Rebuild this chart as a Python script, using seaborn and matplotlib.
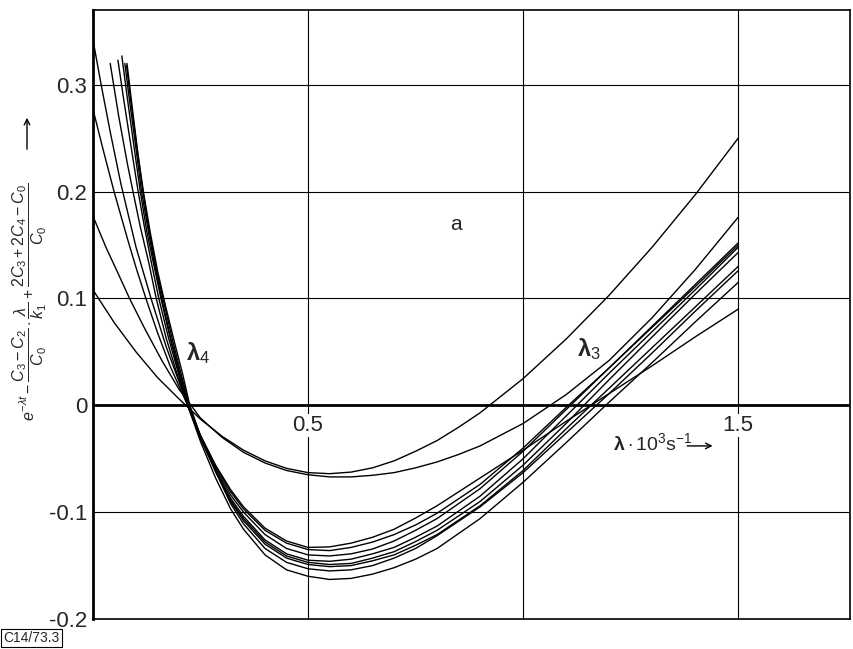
import matplotlib
matplotlib.use('Agg')
import matplotlib.pyplot as plt
import pandas as pd
import seaborn as sns

# curves: lambda * 10^3 s^-1 against the combined expression
lam_s1 = [0, 0.05, 0.1, 0.15, 0.2, 0.25, 0.3, 0.35, 0.4, 0.45, 0.5, 0.55, 0.6, 0.65, 0.7, 0.75, 0.8, 0.85, 0.9, 1.0, 1.1, 1.2, 1.3, 1.4, 1.5]
val_s1 = [0.108, 0.077, 0.05, 0.026, 0.006, -0.013, -0.029, -0.042, -0.052, -0.059, -0.063, -0.064, -0.0625, -0.0585, -0.052, -0.043, -0.033, -0.0205, -0.007, 0.025, 0.062, 0.103, 0.148, 0.197, 0.25]

lam_s2 = [0, 0.03, 0.06, 0.085, 0.12, 0.16, 0.2, 0.25, 0.3, 0.35, 0.4, 0.45, 0.5, 0.55, 0.6, 0.65, 0.7, 0.75, 0.8, 0.85, 0.9, 1.0, 1.1, 1.2, 1.3, 1.4, 1.5]
val_s2 = [0.177, 0.148, 0.122, 0.1, 0.072, 0.042, 0.015, -0.012, -0.03, -0.044, -0.054, -0.061, -0.065, -0.067, -0.067, -0.0655, -0.063, -0.0585, -0.053, -0.046, -0.038, -0.017, 0.010, 0.042, 0.082, 0.127, 0.176]

lam_e1 = [0, 0.025, 0.049, 0.08, 0.1, 0.123, 0.15, 0.18, 0.2, 0.22, 0.25, 0.285, 0.32, 0.35, 0.4, 0.45, 0.5, 0.55, 0.6, 0.65, 0.7, 0.75, 0.8, 0.9, 1.0, 1.1, 1.2, 1.3, 1.4, 1.5]
val_e1 = [0.277, 0.237, 0.2, 0.156, 0.129, 0.1, 0.068, 0.036, 0.018, 0.0, -0.028, -0.056, -0.079, -0.095, -0.115, -0.127, -0.133, -0.1325, -0.129, -0.1235, -0.116, -0.1055, -0.094, -0.068, -0.042, -0.015, 0.011, 0.037, 0.064, 0.09]

lam_e2 = [0.04, 0.06, 0.08, 0.093, 0.11, 0.13, 0.147, 0.17, 0.195, 0.22, 0.25, 0.285, 0.32, 0.35, 0.4, 0.45, 0.5, 0.55, 0.6, 0.65, 0.7, 0.75, 0.8, 0.9, 1.0, 1.1, 1.2, 1.3, 1.4, 1.5]
val_e2 = [0.32, 0.27, 0.226, 0.2, 0.167, 0.133, 0.1, 0.063, 0.03, 0.0, -0.029, -0.057, -0.081, -0.097, -0.117, -0.129, -0.135, -0.136, -0.133, -0.128, -0.121, -0.112, -0.101, -0.074, -0.040, -0.002, 0.035, 0.073, 0.111, 0.150]

lam_e3 = [0.058, 0.07, 0.085, 0.105, 0.12, 0.137, 0.153, 0.175, 0.2, 0.22, 0.25, 0.285, 0.32, 0.35, 0.4, 0.45, 0.5, 0.55, 0.6, 0.65, 0.7, 0.75, 0.8, 0.9, 1.0, 1.1, 1.2, 1.3, 1.4, 1.5]
val_e3 = [0.323, 0.29, 0.251, 0.2, 0.166, 0.131, 0.1, 0.064, 0.028, 0.0, -0.03, -0.059, -0.084, -0.1, -0.121, -0.134, -0.14, -0.141, -0.139, -0.1345, -0.127, -0.117, -0.106, -0.078, -0.043, -0.004, 0.035, 0.074, 0.113, 0.152]

lam_e4 = [0.067, 0.08, 0.095, 0.11, 0.125, 0.14, 0.158, 0.18, 0.2, 0.22, 0.25, 0.285, 0.32, 0.35, 0.4, 0.45, 0.5, 0.55, 0.6, 0.65, 0.7, 0.75, 0.8, 0.9, 1.0, 1.1, 1.2, 1.3, 1.4, 1.5]
val_e4 = [0.327, 0.287, 0.243, 0.2, 0.163, 0.134, 0.1, 0.062, 0.03, 0.0, -0.031, -0.061, -0.087, -0.104, -0.126, -0.139, -0.145, -0.146, -0.144, -0.139, -0.133, -0.1235, -0.113, -0.085, -0.050, -0.010, 0.030, 0.069, 0.108, 0.148]

lam_e5 = [0.074, 0.085, 0.1, 0.113, 0.13, 0.145, 0.162, 0.18, 0.2, 0.222, 0.25, 0.285, 0.32, 0.35, 0.4, 0.45, 0.5, 0.55, 0.6, 0.65, 0.7, 0.75, 0.8, 0.9, 1.0, 1.1, 1.2, 1.3, 1.4, 1.5]
val_e5 = [0.32, 0.285, 0.24, 0.2, 0.16, 0.128, 0.096, 0.064, 0.033, 0.0, -0.031, -0.062, -0.089, -0.106, -0.128, -0.141, -0.147, -0.149, -0.148, -0.143, -0.137, -0.1275, -0.117, -0.090, -0.056, -0.017, 0.024, 0.064, 0.104, 0.143]

lam_e6 = [0.079, 0.09, 0.103, 0.116, 0.13, 0.147, 0.165, 0.185, 0.205, 0.224, 0.25, 0.285, 0.32, 0.35, 0.4, 0.45, 0.5, 0.55, 0.6, 0.65, 0.7, 0.75, 0.8, 0.9, 1.0, 1.1, 1.2, 1.3, 1.4, 1.5]
val_e6 = [0.32, 0.283, 0.24, 0.2, 0.165, 0.128, 0.096, 0.061, 0.029, 0.0, -0.029, -0.061, -0.09, -0.108, -0.13, -0.143, -0.149, -0.151, -0.15, -0.1455, -0.14, -0.131, -0.121, -0.094, -0.061, -0.022, 0.016, 0.054, 0.092, 0.130]

lam_e7 = [0.078, 0.09, 0.104, 0.118, 0.133, 0.15, 0.168, 0.19, 0.208, 0.225, 0.25, 0.285, 0.32, 0.35, 0.4, 0.45, 0.5, 0.55, 0.6, 0.65, 0.7, 0.75, 0.8, 0.9, 1.0, 1.1, 1.2, 1.3, 1.4, 1.5]
val_e7 = [0.318, 0.278, 0.236, 0.198, 0.162, 0.126, 0.094, 0.058, 0.03, 0.0, -0.029, -0.062, -0.092, -0.111, -0.134, -0.147, -0.153, -0.155, -0.154, -0.150, -0.143, -0.134, -0.122, -0.095, -0.063, -0.026, 0.011, 0.049, 0.088, 0.126]

lam_e8 = [0, 0.019, 0.04, 0.065, 0.1, 0.135, 0.17, 0.2, 0.22, 0.25, 0.285, 0.32, 0.35, 0.4, 0.45, 0.5, 0.55, 0.6, 0.65, 0.7, 0.75, 0.8, 0.9, 1.0, 1.1, 1.2, 1.3, 1.4, 1.5]
val_e8 = [0.342, 0.3, 0.256, 0.207, 0.148, 0.1, 0.055, 0.022, 0.0, -0.034, -0.068, -0.097, -0.116, -0.14, -0.154, -0.16, -0.163, -0.162, -0.158, -0.152, -0.144, -0.134, -0.106, -0.072, -0.035, 0.003, 0.040, 0.078, 0.115]

y_ticks = [-0.2, -0.1, 0, 0.1, 0.2, 0.3]
y_tick_labels = ['-0.2', '-0.1', '0', '0.1', '0.2', '0.3']
x_grid = [0.5, 1.0, 1.5]
x_tick_vals = [0.5, 1.5]
x_tick_labels = ['0.5', '1.5']

sns.set_style('white')
plt.rcParams['font.family'] = ['Liberation Sans', 'DejaVu Sans']
plt.rcParams['mathtext.fontset'] = 'custom'
plt.rcParams['mathtext.rm'] = 'Liberation Sans'
plt.rcParams['mathtext.it'] = 'Liberation Sans:italic'
plt.rcParams['mathtext.bf'] = 'Liberation Sans:bold'

frames = []
for name, lam, val in [('s1', lam_s1, val_s1), ('s2', lam_s2, val_s2),
                       ('e1', lam_e1, val_e1), ('e2', lam_e2, val_e2),
                       ('e3', lam_e3, val_e3), ('e4', lam_e4, val_e4),
                       ('e5', lam_e5, val_e5), ('e6', lam_e6, val_e6),
                       ('e7', lam_e7, val_e7), ('e8', lam_e8, val_e8)]:
    frames.append(pd.DataFrame({'lam': lam, 'val': val, 'curve': name}))
df = pd.concat(frames, ignore_index=True)

fig = plt.figure(figsize=(8.54, 6.49), dpi=100)
ax = fig.add_axes([93 / 854, 1 - 619 / 649, (850 - 93) / 854, (619 - 10) / 649])

# grid first, curves on top
for gx in x_grid:
    ax.axvline(gx, color='black', lw=0.8, zorder=1)
for gy in y_ticks:
    if gy not in (0, -0.2):
        ax.axhline(gy, color='black', lw=0.8, zorder=1)
ax.axhline(0, color='black', lw=2.0, zorder=2)

sns.lineplot(data=df, x='lam', y='val', units='curve', estimator=None,
             color='black', lw=1.0, sort=False, ax=ax, zorder=3)

ax.set_xlim(0, 1.76)
ax.set_ylim(-0.2, 0.37)
ax.set_xticks([])
ax.set_yticks(y_ticks)
ax.set_yticklabels(y_tick_labels, fontsize=16)
ax.tick_params(axis='y', length=0, pad=4)
ax.set_xlabel('')
ax.set_ylabel('')

for sp in ax.spines.values():
    sp.set_color('black')
    sp.set_linewidth(1.2)
ax.spines['left'].set_linewidth(2.0)

# x tick labels sit just under the zero line, covering the grid
for xv, lab in zip(x_tick_vals, x_tick_labels):
    ax.text(xv, -0.019, lab, ha='center', va='center', fontsize=16, zorder=5,
            bbox=dict(facecolor='white', edgecolor='none', pad=1))

ax.text(1.21, -0.035, r'$\mathbf{\lambda}\cdot10^3\mathrm{s}^{-1}$', fontsize=14,
        ha='left', va='center', zorder=5)
ax.annotate('', xy=(1.447, -0.038), xytext=(1.375, -0.038),
            arrowprops=dict(arrowstyle='->', color='black', lw=1.0), zorder=5)

ax.text(0.244, 0.049, r'$\mathbf{\lambda}_4$', fontsize=17, ha='center', va='center', zorder=5)
ax.text(1.153, 0.053, r'$\mathbf{\lambda}_3$', fontsize=17, ha='center', va='center', zorder=5)
ax.text(0.844, 0.169, 'a', fontsize=15, ha='center', va='center', zorder=5)

fig.text(0.035, 1 - 302 / 649,
         r'$e^{-\lambda t}-\dfrac{C_3-C_2}{C_0}\cdot\dfrac{\lambda}{k_1}+\dfrac{2C_3+2C_4-C_0}{C_0}$',
         rotation=90, ha='center', va='center', fontsize=11.5)
fig.patches.append(matplotlib.patches.FancyArrowPatch(
    (27 / 854, 1 - 152 / 649), (27 / 854, 1 - 115 / 649), transform=fig.transFigure,
    arrowstyle='->', mutation_scale=10, color='black', lw=1.0))

fig.text(0.004, 1 - 638 / 649, 'C14/73.3', fontsize=10, ha='left', va='center',
         bbox=dict(facecolor='white', edgecolor='black', lw=0.8, pad=1.5))

fig.savefig('out.png', dpi=100)
